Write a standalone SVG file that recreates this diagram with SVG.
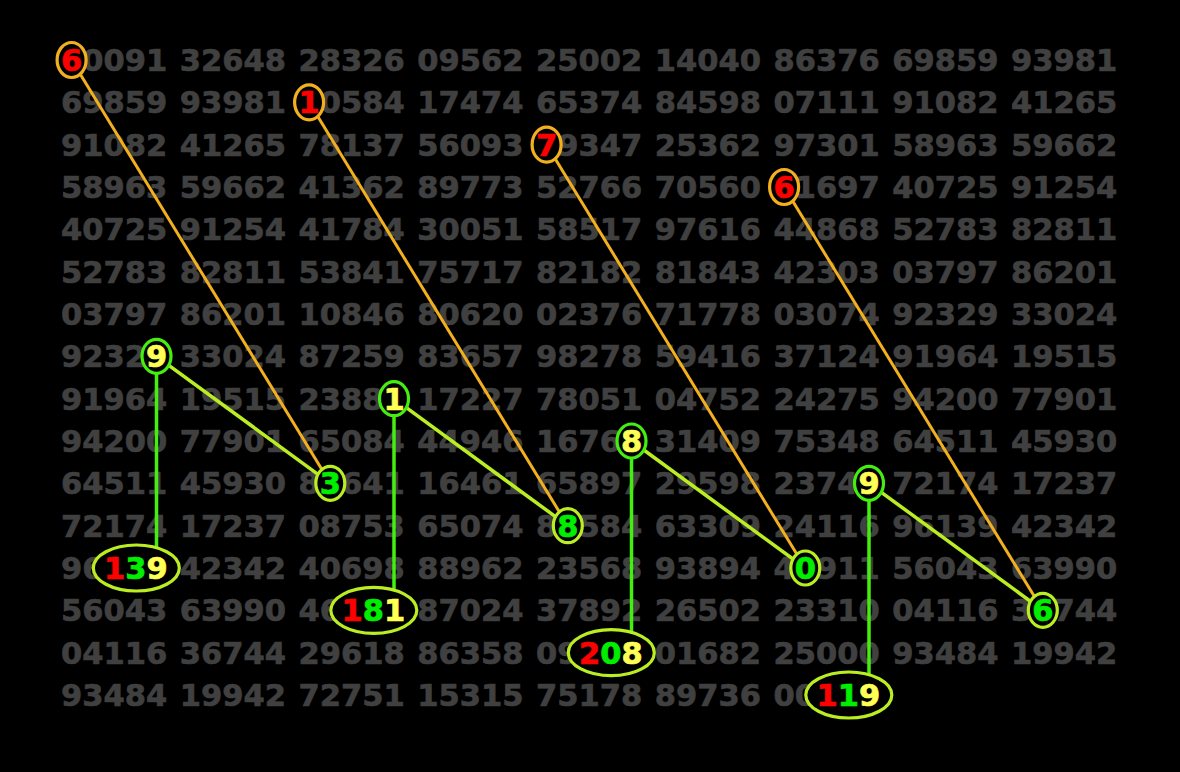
<svg xmlns="http://www.w3.org/2000/svg" width="1180" height="772" viewBox="0 0 1180 772">
<style>
.g{font-family:"DejaVu Sans","Verdana",sans-serif;font-weight:bold;font-size:30.5px;fill:#404040;stroke:#404040;stroke-width:0.7}
.d{font-family:"DejaVu Sans","Verdana",sans-serif;font-weight:bold;font-size:30.5px;text-anchor:middle;stroke-width:0.7}
.ro{fill:#000;stroke:#f2b01e;stroke-width:3.2}
.gc{fill:#000;stroke:#44ee11;stroke-width:3.2}
.yc{fill:#000;stroke:#bbee22;stroke-width:3.2}
.or{stroke:#f2b01e;stroke-width:3;fill:none}
.vg{stroke:#44ee11;stroke-width:3.5;fill:none}
.yg{stroke:#bbee22;stroke-width:3.5;fill:none}
.red{fill:#ff0000;stroke:#ff0000}.grn{fill:#00ee00;stroke:#00ee00}.yel{fill:#ffff55;stroke:#ffff55}
</style>
<rect width="1180" height="772" fill="#000"/>
<g id="grid" class="g">
<text y="71"><tspan x="82.23">0091</tspan><tspan x="179.75">32648</tspan><tspan x="298.5">28326</tspan><tspan x="417.25">09562</tspan><tspan x="536">25002</tspan><tspan x="654.75">14040</tspan><tspan x="773.5">86376</tspan><tspan x="892.25">69859</tspan><tspan x="1011">93981</tspan></text>
<text y="113.3"><tspan x="61">69859</tspan><tspan x="179.75">93981</tspan><tspan x="319.73">0584</tspan><tspan x="417.25">17474</tspan><tspan x="536">65374</tspan><tspan x="654.75">84598</tspan><tspan x="773.5">07111</tspan><tspan x="892.25">91082</tspan><tspan x="1011">41265</tspan></text>
<text y="155.7"><tspan x="61">91082</tspan><tspan x="179.75">41265</tspan><tspan x="298.5">78137</tspan><tspan x="417.25">56093</tspan><tspan x="557.23">9347</tspan><tspan x="654.75">25362</tspan><tspan x="773.5">97301</tspan><tspan x="892.25">58963</tspan><tspan x="1011">59662</tspan></text>
<text y="198"><tspan x="61">58963</tspan><tspan x="179.75">59662</tspan><tspan x="298.5">41362</tspan><tspan x="417.25">89773</tspan><tspan x="536">52766</tspan><tspan x="654.75">70560</tspan><tspan x="794.73">1697</tspan><tspan x="892.25">40725</tspan><tspan x="1011">91254</tspan></text>
<text y="240.3"><tspan x="61">40725</tspan><tspan x="179.75">91254</tspan><tspan x="298.5">41784</tspan><tspan x="417.25">30051</tspan><tspan x="536">58517</tspan><tspan x="654.75">97616</tspan><tspan x="773.5">44868</tspan><tspan x="892.25">52783</tspan><tspan x="1011">82811</tspan></text>
<text y="282.7"><tspan x="61">52783</tspan><tspan x="179.75">82811</tspan><tspan x="298.5">53841</tspan><tspan x="417.25">75717</tspan><tspan x="536">82182</tspan><tspan x="654.75">81843</tspan><tspan x="773.5">42303</tspan><tspan x="892.25">03797</tspan><tspan x="1011">86201</tspan></text>
<text y="325"><tspan x="61">03797</tspan><tspan x="179.75">86201</tspan><tspan x="298.5">10846</tspan><tspan x="417.25">80620</tspan><tspan x="536">02376</tspan><tspan x="654.75">71778</tspan><tspan x="773.5">03074</tspan><tspan x="892.25">92329</tspan><tspan x="1011">33024</tspan></text>
<text y="367.3"><tspan x="61">9232</tspan><tspan x="179.75">33024</tspan><tspan x="298.5">87259</tspan><tspan x="417.25">83657</tspan><tspan x="536">98278</tspan><tspan x="654.75">59416</tspan><tspan x="773.5">37124</tspan><tspan x="892.25">91964</tspan><tspan x="1011">19515</tspan></text>
<text y="409.7"><tspan x="61">91964</tspan><tspan x="179.75">19515</tspan><tspan x="298.5">2388</tspan><tspan x="417.25">17227</tspan><tspan x="536">78051</tspan><tspan x="654.75">04752</tspan><tspan x="773.5">24275</tspan><tspan x="892.25">94200</tspan><tspan x="1011">77901</tspan></text>
<text y="452"><tspan x="61">94200</tspan><tspan x="179.75">77901</tspan><tspan x="298.5">65084</tspan><tspan x="417.25">44946</tspan><tspan x="536">1676</tspan><tspan x="654.75">31409</tspan><tspan x="773.5">75348</tspan><tspan x="892.25">64511</tspan><tspan x="1011">45930</tspan></text>
<text y="494.3"><tspan x="61">64511</tspan><tspan x="179.75">45930</tspan><tspan x="298.5">8</tspan><tspan x="340.96">641</tspan><tspan x="417.25">16461</tspan><tspan x="536">65897</tspan><tspan x="654.75">29598</tspan><tspan x="773.5">2374</tspan><tspan x="892.25">72174</tspan><tspan x="1011">17237</tspan></text>
<text y="536.7"><tspan x="61">72174</tspan><tspan x="179.75">17237</tspan><tspan x="298.5">08753</tspan><tspan x="417.25">65074</tspan><tspan x="536">8</tspan><tspan x="578.46">584</tspan><tspan x="654.75">63309</tspan><tspan x="773.5">24116</tspan><tspan x="892.25">96139</tspan><tspan x="1011">42342</tspan></text>
<text y="579"><tspan x="61">96</tspan><tspan x="179.75">42342</tspan><tspan x="298.5">40698</tspan><tspan x="417.25">88962</tspan><tspan x="536">23568</tspan><tspan x="654.75">93894</tspan><tspan x="773.5">4</tspan><tspan x="815.96">911</tspan><tspan x="892.25">56043</tspan><tspan x="1011">63990</tspan></text>
<text y="621.3"><tspan x="61">56043</tspan><tspan x="179.75">63990</tspan><tspan x="298.5">46</tspan><tspan x="417.25">87024</tspan><tspan x="536">37892</tspan><tspan x="654.75">26502</tspan><tspan x="773.5">23310</tspan><tspan x="892.25">04116</tspan><tspan x="1011">3</tspan><tspan x="1053.46">744</tspan></text>
<text y="663.7"><tspan x="61">04116</tspan><tspan x="179.75">36744</tspan><tspan x="298.5">29618</tspan><tspan x="417.25">86358</tspan><tspan x="536">09</tspan><tspan x="654.75">01682</tspan><tspan x="773.5">25000</tspan><tspan x="892.25">93484</tspan><tspan x="1011">19942</tspan></text>
<text y="706"><tspan x="61">93484</tspan><tspan x="179.75">19942</tspan><tspan x="298.5">72751</tspan><tspan x="417.25">15315</tspan><tspan x="536">75178</tspan><tspan x="654.75">89736</tspan><tspan x="773.5">00</tspan></text>
</g>
<g id="connectors">
<line class="or" x1="71.6" y1="60" x2="330.3" y2="483.3"/>
<line class="or" x1="309.1" y1="102.3" x2="567.8" y2="525.7"/>
<line class="or" x1="546.6" y1="144.7" x2="805.3" y2="568"/>
<line class="or" x1="784.1" y1="187" x2="1042.8" y2="610.3"/>
<line class="yg" x1="156.5" y1="356.3" x2="330.3" y2="483.3"/>
<line class="yg" x1="394" y1="398.7" x2="567.8" y2="525.7"/>
<line class="yg" x1="631.5" y1="441" x2="805.3" y2="568"/>
<line class="yg" x1="869" y1="483.3" x2="1042.8" y2="610.3"/>
<line class="vg" x1="156.5" y1="356.3" x2="156.5" y2="560"/>
<line class="vg" x1="394" y1="398.7" x2="394" y2="602"/>
<line class="vg" x1="631.5" y1="441" x2="631.5" y2="645"/>
<line class="vg" x1="869" y1="483.3" x2="869" y2="687"/>
</g>
<g id="n-r6a"><ellipse class="ro" cx="71.6" cy="60" rx="14.5" ry="17.5"/><text class="d red" x="71.6" y="71">6</text></g>
<g id="n-r1"><ellipse class="ro" cx="309.1" cy="102.3" rx="14.5" ry="17.5"/><text class="d red" x="309.1" y="113.3">1</text></g>
<g id="n-r7"><ellipse class="ro" cx="546.6" cy="144.7" rx="14.5" ry="17.5"/><text class="d red" x="546.6" y="155.7">7</text></g>
<g id="n-r6b"><ellipse class="ro" cx="784.1" cy="187" rx="14.5" ry="17.5"/><text class="d red" x="784.1" y="198">6</text></g>
<g id="n-y9a"><ellipse class="gc" cx="156.5" cy="356.3" rx="14.5" ry="17"/><text class="d yel" x="156.5" y="367.3">9</text></g>
<g id="n-y1"><ellipse class="gc" cx="394" cy="398.7" rx="14.5" ry="17"/><text class="d yel" x="394" y="409.7">1</text></g>
<g id="n-y8"><ellipse class="gc" cx="631.5" cy="441" rx="14.5" ry="17"/><text class="d yel" x="631.5" y="452">8</text></g>
<g id="n-y9b"><ellipse class="gc" cx="869" cy="483.3" rx="14.5" ry="17"/><text class="d yel" x="869" y="494.3">9</text></g>
<g id="n-g3"><ellipse class="yc" cx="330.3" cy="483.3" rx="14.5" ry="17"/><text class="d grn" x="330.3" y="494.3">3</text></g>
<g id="n-g8"><ellipse class="yc" cx="567.8" cy="525.7" rx="14.5" ry="17"/><text class="d grn" x="567.8" y="536.7">8</text></g>
<g id="n-g0"><ellipse class="yc" cx="805.3" cy="568" rx="14.5" ry="17"/><text class="d grn" x="805.3" y="579">0</text></g>
<g id="n-g6"><ellipse class="yc" cx="1042.8" cy="610.3" rx="14.5" ry="17"/><text class="d grn" x="1042.8" y="621.3">6</text></g>
<g id="n-e139"><ellipse class="yc" cx="136.3" cy="568" rx="43" ry="23"/><text class="d" x="135.8" y="579"><tspan class="red">1</tspan><tspan class="grn">3</tspan><tspan class="yel">9</tspan></text></g>
<g id="n-e181"><ellipse class="yc" cx="373.8" cy="610.3" rx="43" ry="23"/><text class="d" x="373.3" y="621.3"><tspan class="red">1</tspan><tspan class="grn">8</tspan><tspan class="yel">1</tspan></text></g>
<g id="n-e208"><ellipse class="yc" cx="611.3" cy="652.7" rx="43" ry="23"/><text class="d" x="610.8" y="663.7"><tspan class="red">2</tspan><tspan class="grn">0</tspan><tspan class="yel">8</tspan></text></g>
<g id="n-e119"><ellipse class="yc" cx="848.8" cy="695" rx="43" ry="23"/><text class="d" x="848.3" y="706"><tspan class="red">1</tspan><tspan class="grn">1</tspan><tspan class="yel">9</tspan></text></g>
</svg>
